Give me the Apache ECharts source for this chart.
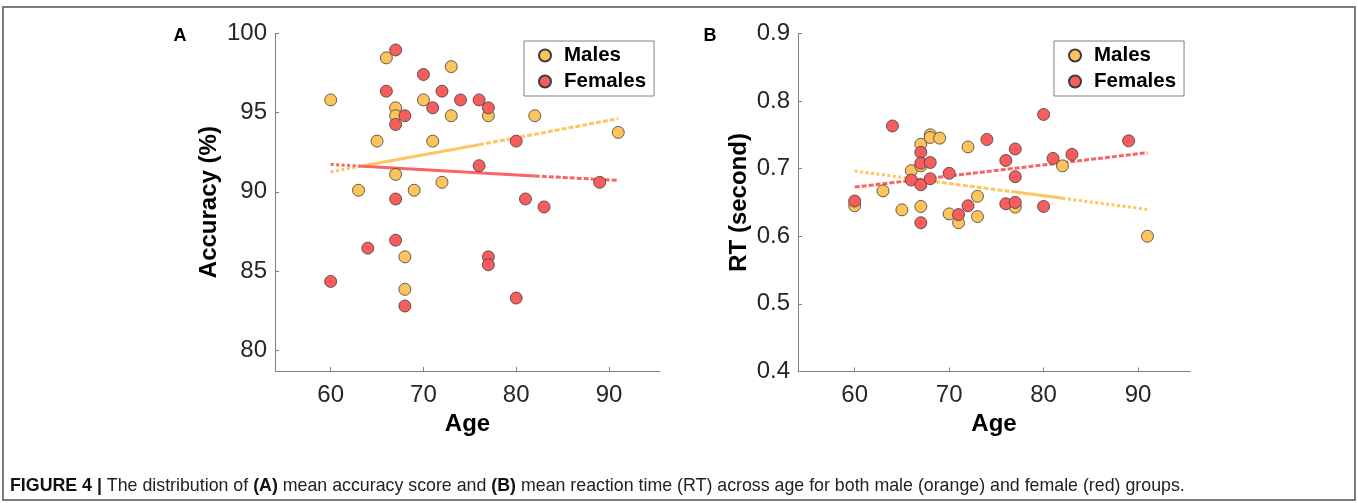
<!DOCTYPE html>
<html>
<head>
<meta charset="utf-8">
<script src="https://cdn.jsdelivr.net/npm/echarts@6/dist/echarts.min.js"></script>
<style>
  html, body { margin: 0; padding: 0; background: #ffffff; }
  #chart { width: 1358px; height: 503px; }
</style>
</head>
<body>
<div id="chart"></div>
<script>
// ---- data ----
const groups = ['Males', 'Females'];
const ageTicks = [60, 70, 80, 90];
const accTicks = [80, 85, 90, 95, 100];
const rtTicks = [0.4, 0.5, 0.6, 0.7, 0.8, 0.9];

// [age, accuracy %]
const malesAcc = [
  [60, 95.8], [63, 90.1], [65, 93.2], [66, 98.45], [67, 95.3], [67, 94.8],
  [67, 91.1], [68, 85.9], [68, 83.85], [69, 90.1], [70, 95.8], [71, 93.2],
  [72, 90.6], [73, 97.9], [73, 94.8], [77, 94.8], [82, 94.8], [91, 93.75]
];
const femalesAcc = [
  [60, 84.35], [64, 86.45], [66, 96.35], [67, 98.95], [67, 94.25], [67, 89.55],
  [67, 86.95], [68, 94.8], [68, 82.8], [70, 97.4], [71, 95.3], [72, 96.35],
  [74, 95.8], [76, 95.8], [76, 91.65], [77, 95.3], [77, 85.9], [77, 85.4],
  [80, 93.2], [80, 83.3], [81, 89.55], [83, 89.05], [89, 90.6]
];

// [age, reaction time in seconds]
const malesRT = [
  [60, 0.645], [63, 0.667], [65, 0.639], [66, 0.697], [67, 0.736], [67, 0.704],
  [67, 0.644], [68, 0.75], [68, 0.746], [69, 0.745], [70, 0.633], [71, 0.62],
  [72, 0.732], [73, 0.659], [73, 0.629], [77, 0.643], [82, 0.704], [91, 0.6]
];
const femalesRT = [
  [60, 0.652], [64, 0.763], [66, 0.683], [67, 0.724], [67, 0.708], [67, 0.676],
  [67, 0.62], [68, 0.709], [68, 0.685], [70, 0.693], [71, 0.632], [72, 0.645],
  [74, 0.743], [76, 0.712], [76, 0.648], [77, 0.729], [77, 0.688], [77, 0.65],
  [80, 0.78], [80, 0.644], [81, 0.715], [83, 0.721], [89, 0.741]
];

// linear trend lines, listed at the points where the stroke style changes
const malesAccFit = [[60, 91.25], [63.5, 91.65], [76, 92.97], [91, 94.62]];
const femalesAccFit = [[60, 91.73], [63, 91.63], [82, 91.0], [91, 90.72]];
const malesRTFit = [[60, 0.6963], [68.5, 0.6806], [76.6, 0.666], [82, 0.656], [91, 0.6396]];
const femalesRTFit = [[60, 0.6726], [91, 0.7235]];

// ---- styling ----
const ORANGE = '#fec45c';
const RED = '#f85d5d';
const ORANGE_LINE = '#fdc660';
const RED_LINE = '#f96464';
const EDGE = '#3c3c3c';
const AXIS = '#808080';
const TICK_TEXT = '#262626';
const FONT = '"Liberation Sans", Arial, Helvetica, sans-serif';

const DASH = {
  solid: 'solid',
  dashed: [5, 2],
  dotted: [3, 2.5]
};

function scatter(name, data, color, idx) {
  return {
    name: name,
    type: 'scatter',
    xAxisIndex: idx,
    yAxisIndex: idx,
    data: data,
    symbol: 'circle',
    symbolSize: 12,
    z: 3,
    itemStyle: { color: color, borderColor: EDGE, borderWidth: 0.8, opacity: 1 },
    emphasis: { disabled: true }
  };
}

function fitPieces(points, styles, color, idx) {
  const out = [];
  for (let i = 0; i < points.length - 1; i++) {
    out.push({
      type: 'line',
      xAxisIndex: idx,
      yAxisIndex: idx,
      data: [points[i], points[i + 1]],
      symbol: 'none',
      silent: true,
      z: 2,
      lineStyle: { color: color, width: 3, type: DASH[styles[i]], cap: 'butt' },
      emphasis: { disabled: true }
    });
  }
  return out;
}

function xAxisFor(idx) {
  return {
    type: 'value',
    gridIndex: idx,
    min: 54,
    max: 95.5,
    name: 'Age',
    nameLocation: 'middle',
    nameGap: 40,
    nameTextStyle: { fontFamily: FONT, fontSize: 24, fontWeight: 'bold', color: '#000' },
    axisLine: { onZero: false, lineStyle: { color: AXIS, width: 1 } },
    axisTick: { inside: true, length: 4, customValues: ageTicks, lineStyle: { color: AXIS } },
    axisLabel: { customValues: ageTicks, fontFamily: FONT, fontSize: 24, color: TICK_TEXT, margin: 12 },
    splitLine: { show: false }
  };
}

function yAxisFor(idx, min, max, ticks, name, gap, fmt) {
  return {
    type: 'value',
    gridIndex: idx,
    min: min,
    max: max,
    name: name,
    nameLocation: 'middle',
    nameGap: gap,
    nameTextStyle: { fontFamily: FONT, fontSize: 24, fontWeight: 'bold', color: '#000' },
    axisLine: { show: true, onZero: false, lineStyle: { color: AXIS, width: 1 } },
    axisTick: { show: true, inside: true, length: 4, customValues: ticks, lineStyle: { color: AXIS } },
    axisLabel: { customValues: ticks, fontFamily: FONT, fontSize: 24, color: TICK_TEXT, margin: 8, formatter: fmt },
    splitLine: { show: false }
  };
}

function legendAt(left) {
  return {
    data: groups,
    orient: 'vertical',
    left: left,
    top: 41,
    icon: 'circle',
    itemWidth: 12,
    itemHeight: 12,
    itemGap: 5,
    padding: [4, 8, 4, 14],
    borderColor: AXIS,
    borderWidth: 1,
    selectedMode: false,
    textStyle: { fontFamily: FONT, fontSize: 20.5, fontWeight: 'bold', color: '#000', lineHeight: 20, padding: [0, 0, 0, 8] }
  };
}

const chart = echarts.init(document.getElementById('chart'), null, { renderer: 'canvas' });

const CAPTION_FONT = '"Liberation Sans", Arial, sans-serif';

const option = {
  animation: false,
  backgroundColor: '#ffffff',
  grid: [
    { left: 275, top: 33.3, width: 385, height: 337.7 },
    { left: 798, top: 33.3, width: 392, height: 338.2 }
  ],
  xAxis: [xAxisFor(0), xAxisFor(1)],
  yAxis: [
    yAxisFor(0, 78.7, 100, accTicks, 'Accuracy (%)', 54, v => String(v)),
    yAxisFor(1, 0.4, 0.9, rtTicks, 'RT (second)', 47, v => v.toFixed(1))
  ],
  legend: [legendAt(524), legendAt(1054)],
  series: [
    ...fitPieces(malesAccFit, ['dotted', 'solid', 'dashed'], ORANGE_LINE, 0),
    ...fitPieces(femalesAccFit, ['dotted', 'solid', 'dashed'], RED_LINE, 0),
    ...fitPieces(malesRTFit, ['dotted', 'dashed', 'solid', 'dotted'], ORANGE_LINE, 1),
    ...fitPieces(femalesRTFit, ['dashed'], RED_LINE, 1),
    scatter('Males', malesAcc, ORANGE, 0),
    scatter('Females', femalesAcc, RED, 0),
    scatter('Males', malesRT, ORANGE, 1),
    scatter('Females', femalesRT, RED, 1)
  ],
  graphic: [
    {
      type: 'rect',
      silent: true,
      shape: { x: 3, y: 7, width: 1352, height: 493 },
      style: { fill: 'none', stroke: '#7a7a7a', lineWidth: 2 }
    },
    {
      type: 'text',
      x: 180, y: 36,
      style: { text: 'A', fontFamily: FONT, fontSize: 18, fontWeight: 'bold', fill: '#000', align: 'center', verticalAlign: 'middle' }
    },
    {
      type: 'text',
      x: 710, y: 36,
      style: { text: 'B', fontFamily: FONT, fontSize: 18, fontWeight: 'bold', fill: '#000', align: 'center', verticalAlign: 'middle' }
    },
    {
      type: 'text',
      x: 10, y: 486,
      style: {
        text: '{b|FIGURE 4 |} The distribution of {b|(A)} mean accuracy score and {b|(B)} mean reaction time (RT) across age for both male (orange) and female (red) groups.',
        fontFamily: CAPTION_FONT,
        fontSize: 17.8,
        fill: '#222',
        verticalAlign: 'middle',
        rich: {
          b: { fontFamily: CAPTION_FONT, fontSize: 17.8, fontWeight: 'bold', fill: '#111' }
        }
      }
    }
  ]
};

chart.setOption(option);
</script>
</body>
</html>
